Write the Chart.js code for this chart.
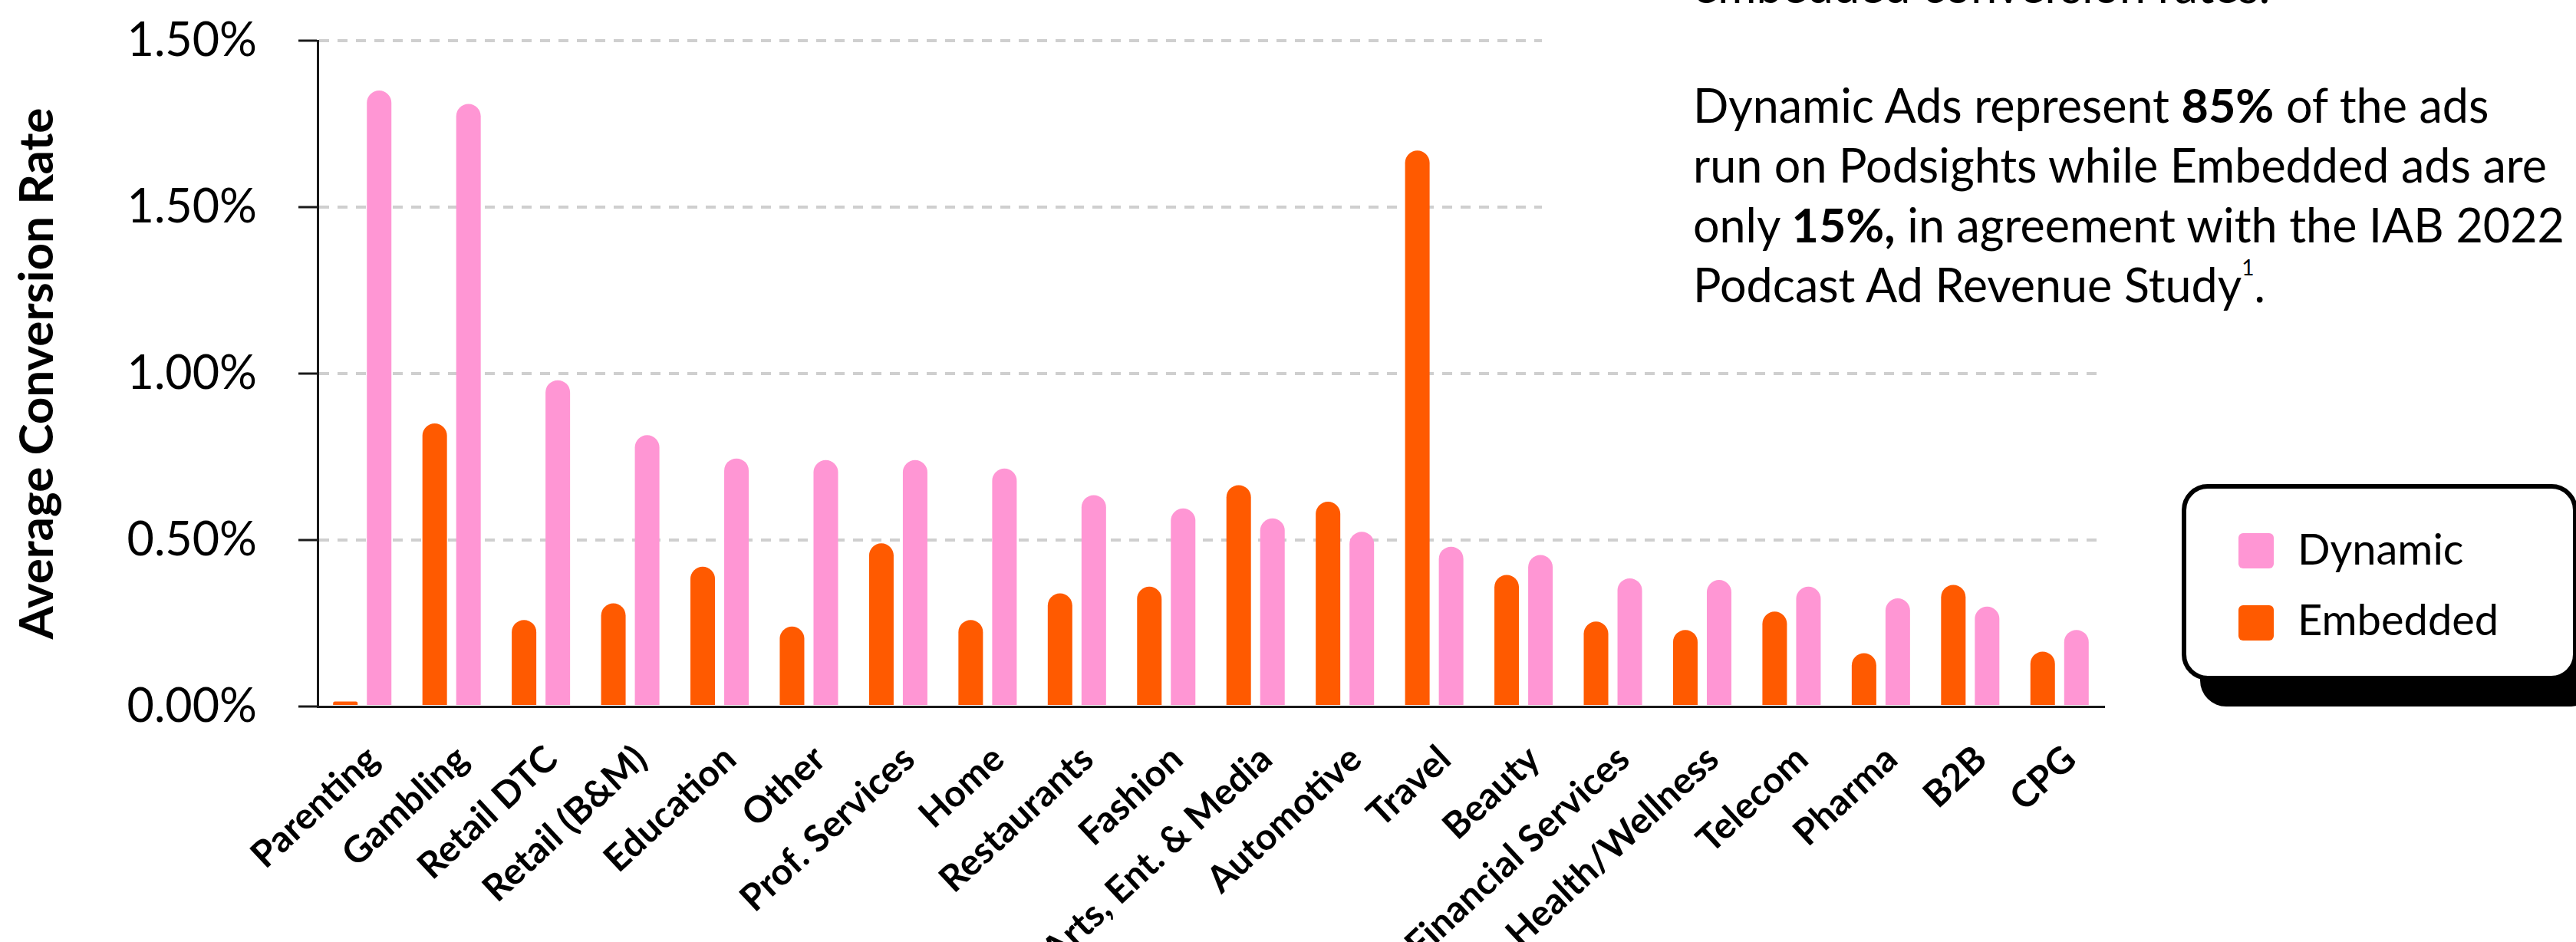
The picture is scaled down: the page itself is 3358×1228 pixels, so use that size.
<!DOCTYPE html>
<html>
<head>
<meta charset="utf-8">
<script src="https://cdn.jsdelivr.net/npm/chart.js@4.4.0/dist/chart.umd.min.js"></script>
<style>
  html, body { margin: 0; padding: 0; background: #fff; }
  body { width: 3358px; height: 1228px; overflow: hidden; position: relative; font-family: Lato, sans-serif; color: #000; }
  #chart { position: absolute; left: 0; top: 0; }
  #note { position: absolute; left: 2010px; top: 0; width: 1348px; height: 440px; background: #fff; overflow: hidden; }
  #note .txt { position: absolute; left: 197px; top: -58px; font-size: 61px; line-height: 78px; white-space: nowrap; }
  #note b { font-weight: 700; }
  #note sup { font-size: 28px; line-height: 0; vertical-align: top; position: relative; top: 16px; }
  #legend { position: absolute; left: 2844px; top: 631px; width: 504px; height: 244px;
            border: 6px solid #000; border-radius: 34px; background: #fff; box-shadow: 24px 34px 0 #000; }
  #legend .sw { position: absolute; left: 68px; width: 46px; height: 46px; border-radius: 6px; }
  #legend .lb { position: absolute; left: 145px; font-size: 56px; line-height: 56px; white-space: nowrap; }
</style>
</head>
<body>
<canvas id="chart" width="3358" height="1228"></canvas>

<div id="note">
  <div class="txt">
    <div>embedded conversion rates.</div>
    <div>&nbsp;</div>
    <div>Dynamic Ads represent <b>85%</b> of the ads</div>
    <div>run on Podsights while Embedded ads are</div>
    <div>only <b>15%,</b> in agreement with the IAB 2022</div>
    <div>Podcast Ad Revenue Study<sup>1</sup>.</div>
  </div>
</div>

<div id="legend">
  <div class="sw" id="sw-dyn" style="top:58px"></div>
  <div class="lb" style="top:50px">Dynamic</div>
  <div class="sw" id="sw-emb" style="top:152px"></div>
  <div class="lb" style="top:142px">Embedded</div>
</div>

<script>
// industries along the x axis
const categories = ['Parenting', 'Gambling', 'Retail DTC', 'Retail (B&M)', 'Education', 'Other',
  'Prof. Services', 'Home', 'Restaurants', 'Fashion', 'Arts, Ent. & Media', 'Automotive', 'Travel',
  'Beauty', 'Financial Services', 'Health/Wellness', 'Telecom', 'Pharma', 'B2B', 'CPG'];

// average conversion rate, in percent
const embeddedRate = [0.015, 0.85, 0.26, 0.31, 0.42, 0.24, 0.49, 0.26, 0.34, 0.36,
  0.665, 0.615, 1.67, 0.395, 0.255, 0.23, 0.285, 0.16, 0.365, 0.165];
const dynamicRate = [1.85, 1.81, 0.98, 0.815, 0.745, 0.74, 0.74, 0.715, 0.635, 0.595,
  0.565, 0.525, 0.48, 0.455, 0.385, 0.38, 0.36, 0.325, 0.30, 0.23];

// tick labels as printed on the original (top one reads 1.50% too)
const yTickLabels = ['0.00%', '0.50%', '1.00%', '1.50%', '1.50%'];

const PINK = '#ff96d4';
const ORANGE = '#ff5a00';

document.getElementById('sw-dyn').style.background = PINK;
document.getElementById('sw-emb').style.background = ORANGE;

new Chart(document.getElementById('chart'), {
  type: 'bar',
  data: {
    labels: categories,
    datasets: [
      { label: 'Embedded', data: embeddedRate, backgroundColor: ORANGE },
      { label: 'Dynamic', data: dynamicRate, backgroundColor: PINK }
    ]
  },
  options: {
    responsive: false,
    animation: false,
    devicePixelRatio: 1,
    layout: { padding: { left: 0, top: 53, right: 615, bottom: 0 } },
    datasets: {
      bar: {
        categoryPercentage: 0.756,
        barPercentage: 0.727,
        borderRadius: 16,
        borderSkipped: 'start',
        borderWidth: 0
      }
    },
    plugins: {
      legend: { display: false },
      tooltip: { enabled: false }
    },
    scales: {
      x: {
        grid: { display: false, drawTicks: false },
        border: { display: true, color: '#1a1a1a', width: 3 },
        ticks: {
          autoSkip: false,
          minRotation: 43,
          maxRotation: 43,
          padding: 40,
          labelOffset: 14,
          color: '#000',
          font: { family: 'Lato', weight: 'bold', size: 48 }
        },
        afterFit(scale) { scale.height = 307; }
      },
      y: {
        min: 0,
        max: 2,
        ticks: {
          stepSize: 0.5,
          padding: 54,
          color: '#000',
          font: { family: 'Lato', size: 61 },
          callback: (value, index) => yTickLabels[index]
        },
        grid: {
          color: ctx => ctx.index === 0 ? 'rgba(0,0,0,0)' : '#cfcfcf',
          lineWidth: 4,
          tickColor: '#1a1a1a',
          tickLength: 25,
          tickWidth: 3,
          tickBorderDash: []
        },
        border: { display: true, color: '#1a1a1a', width: 3, dash: [13, 11] },
        title: {
          display: true,
          text: 'Average Conversion Rate',
          color: '#000',
          font: { family: 'Lato', weight: 'bold', size: 62 },
          padding: { top: 12, bottom: 0 }
        },
        afterFit(scale) {
          scale.width = 414;
          scale.paddingTop = 0;
          scale.paddingBottom = 0;
        }
      }
    }
  }
});
</script>
</body>
</html>
